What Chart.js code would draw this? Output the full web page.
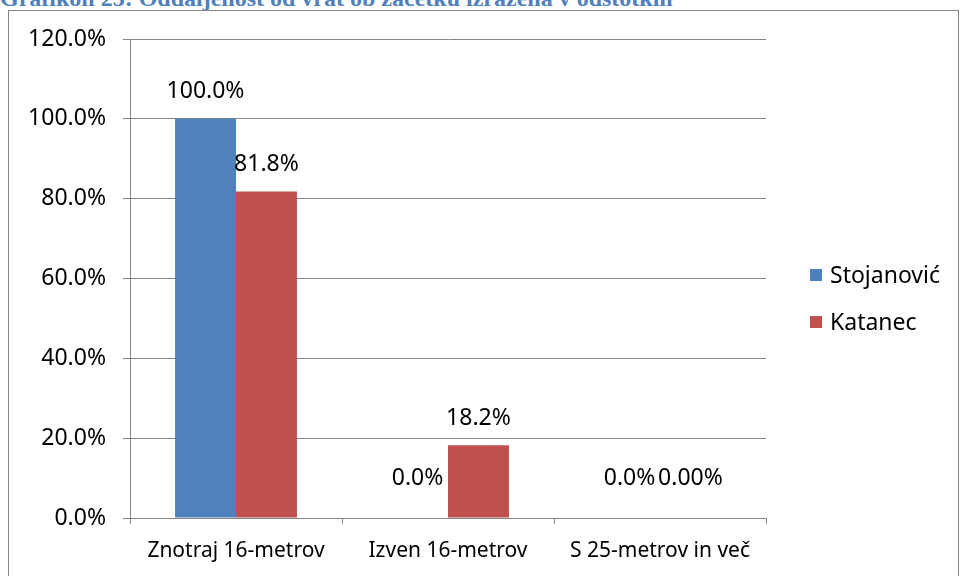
<!DOCTYPE html>
<html>
<head>
<meta charset="utf-8">
<script src="https://cdn.jsdelivr.net/npm/chart.js@4.4.1/dist/chart.umd.min.js"></script>
<style>
  html, body { margin: 0; padding: 0; background: #fff; overflow: hidden; }
  body { width: 960px; height: 576px; position: relative; }
  #title {
    position: absolute; left: 0; top: -15px;
    font: bold 24px "Liberation Serif", serif; color: #4f81bd;
    white-space: nowrap;
  }
  #frame {
    position: absolute; left: 8px; top: 10px; width: 949px; height: 580px;
    border: 1px solid #868686;
  }
  #wrap { position: absolute; left: 0; top: 0; width: 949px; height: 565px; }
</style>
</head>
<body>
<div id="title">Grafikon 25: Oddaljenost od vrat ob začetku izražena v odstotkih</div>
<div id="frame"><div id="wrap"><canvas id="myChart"></canvas></div></div>
<script>
// podatki
var categories = ['Znotraj 16-metrov', 'Izven 16-metrov', 'S 25-metrov in več'];
var seriesNames = ['Stojanović', 'Katanec'];
var stojanovic = [100.0, 0.0, 0.0];
var katanec = [81.8, 18.2, 0.0];
var stojanovicLabels = ['100.0%', '0.0%', '0.0%'];
var katanecLabels = ['81.8%', '18.2%', '0.00%'];
var yTicks = [0, 20, 40, 60, 80, 100, 120];

var FONT = 'Noto Sans';
var GRID = '#868686';

// oznake nad stolpci
var barLabels = {
    id: 'barLabels',
    afterDatasetsDraw: function(chart) {
        var ctx = chart.ctx;
        ctx.save();
        ctx.font = '23px "' + FONT + '"';
        ctx.fillStyle = '#000';
        ctx.textAlign = 'center';
        ctx.textBaseline = 'middle';
        chart.data.datasets.forEach(function(ds, i) {
            chart.getDatasetMeta(i).data.forEach(function(bar, j) {
                var y = Math.min(bar.y - 27, bar.base - 40);
                ctx.fillText(ds.labelsText[j], bar.x, y);
            });
        });
        ctx.restore();
    }
};

// legenda desno
var sideLegend = {
    id: 'sideLegend',
    afterDraw: function(chart) {
        var ctx = chart.ctx, area = chart.chartArea;
        ctx.save();
        ctx.font = '23px "' + FONT + '"';
        ctx.textBaseline = 'middle';
        chart.data.datasets.forEach(function(ds, i) {
            var x = area.right + 44;
            var y = area.top + 236 + i * 47;
            ctx.fillStyle = ds.backgroundColor;
            ctx.fillRect(x, y - 6, 12, 12);
            ctx.fillStyle = '#000';
            ctx.fillText(ds.label, x + 20, y + 1);
        });
        ctx.restore();
    }
};

var ctx = document.getElementById('myChart').getContext('2d');
var chart = new Chart(ctx, {
    type: 'bar',
    data: {
        labels: categories,
        datasets: [{
            label: seriesNames[0],
            data: stojanovic,
            labelsText: stojanovicLabels,
            backgroundColor: '#4f81bd'
        }, {
            label: seriesNames[1],
            data: katanec,
            labelsText: katanecLabels,
            backgroundColor: '#c0504d'
        }]
    },
    options: {
        responsive: true,
        maintainAspectRatio: false,
        animation: false,
        layout: { padding: { top: 28, right: 192, left: 0, bottom: 0 } },
        datasets: { bar: { categoryPercentage: 0.575, barPercentage: 1.0 } },
        plugins: {
            legend: { display: false },
            tooltip: { enabled: false }
        },
        scales: {
            x: {
                grid: { drawOnChartArea: false, drawTicks: true, tickLength: 6, color: GRID, offset: true },
                border: { display: true, color: GRID },
                ticks: { color: '#000', font: { family: FONT, size: 21 }, padding: 14, maxRotation: 0 },
                afterFit: function(s) { s.height = 58; }
            },
            y: {
                min: 0, max: 120,
                afterBuildTicks: function(s) { s.ticks = yTicks.map(function(v) { return { value: v }; }); },
                grid: { color: GRID, tickLength: 7 },
                border: { display: true, color: GRID },
                ticks: {
                    color: '#000', font: { family: FONT, size: 23, lineHeight: 1 }, padding: 17,
                    callback: function(v) { return v.toFixed(1) + '%'; }
                },
                afterFit: function(s) { s.width = 121; s.paddingTop = 0; s.paddingBottom = 0; }
            }
        }
    },
    plugins: [barLabels, sideLegend]
});
</script>
</body>
</html>
